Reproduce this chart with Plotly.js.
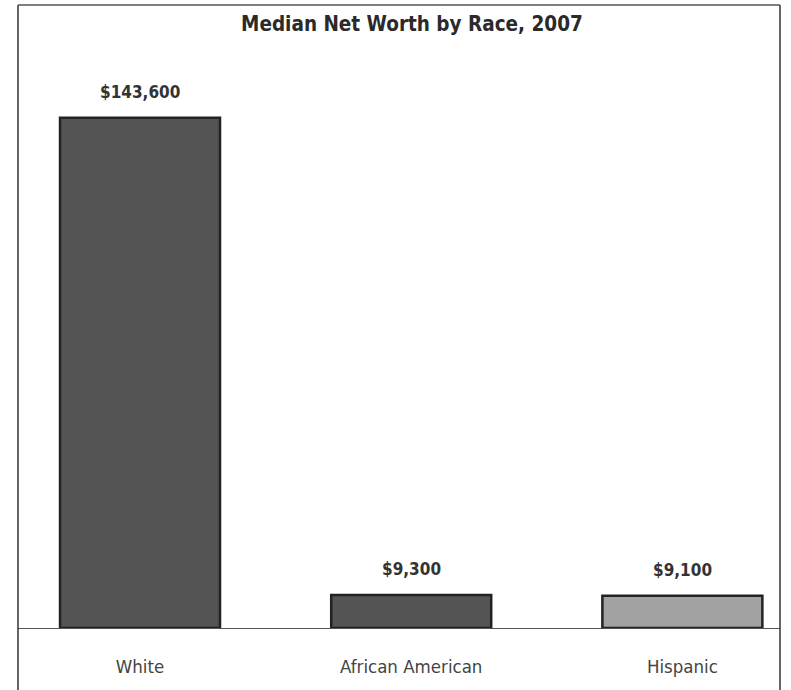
<!DOCTYPE html>
<html>
<head>
<meta charset="utf-8">
<script src="https://cdn.plot.ly/plotly-3.0.1.min.js"></script>
<style>
html,body{margin:0;padding:0;background:#fff;}
#chart{width:791px;height:690px;}
</style>
</head>
<body>
<div id="chart"></div>
<script>
const categories = ["White", "African American", "Hispanic"];
const values = [143600, 9300, 9100];
const barColors = ["#545454", "#545454", "#a2a2a2"];
const chartTitle = "Median Net Worth by Race, 2007";

const FONT = "'Liberation Sans Narrow', 'Arial Narrow', 'DejaVu Sans Condensed', sans-serif";

function fmt(v){ return "$" + v.toLocaleString("en-US"); }

const trace = {
  type: "bar",
  x: categories,
  y: values,
  marker: { color: barColors, line: { color: "#222222", width: 2.5 } },
  hoverinfo: "none"
};

const annotations = categories.map((c, i) => ({
  x: c, y: values[i], xref: "x", yref: "y",
  text: "<b>" + fmt(values[i]) + "</b>", showarrow: false,
  yanchor: "bottom", yshift: 14,
  font: { family: FONT, size: 17, color: "#333333" }
}));

const layout = {
  width: 791, height: 690,
  paper_bgcolor: "#ffffff", plot_bgcolor: "#ffffff",
  margin: { l: 18, r: 11, t: 5, b: 62, pad: 0 },
  title: {
    text: "<b>" + chartTitle + "</b>",
    font: { family: FONT, size: 20.5, color: "#2a2a2a" },
    x: 0.517, xanchor: "center", xref: "paper",
    y: 0.965, yanchor: "middle", yref: "container"
  },
  bargap: 0.41,
  xaxis: {
    range: [-0.45, 2.36],
    showline: true, linecolor: "#555555", linewidth: 1.2,
    ticks: "", showgrid: false, zeroline: false,
    tickfont: { family: FONT, size: 18.5, color: "#444444" },
    ticklabelstandoff: 22, fixedrange: true
  },
  yaxis: {
    range: [0, 175300],
    showticklabels: false, showgrid: false, zeroline: false,
    showline: false, ticks: "", fixedrange: true
  },
  annotations: annotations,
  shapes: [
    { type: "line", xref: "paper", yref: "paper", x0: 0, x1: 0, y0: -0.2, y1: 1, line: { color: "#333333", width: 1.5 } },
    { type: "line", xref: "paper", yref: "paper", x0: 1, x1: 1, y0: -0.2, y1: 1, line: { color: "#333333", width: 1.5 } },
    { type: "line", xref: "paper", yref: "paper", x0: 0, x1: 1, y0: 1, y1: 1, line: { color: "#555555", width: 1.5 } }
  ],
  showlegend: false
};

Plotly.newPlot("chart", [trace], layout, { displayModeBar: false, staticPlot: true });
</script>
</body>
</html>
